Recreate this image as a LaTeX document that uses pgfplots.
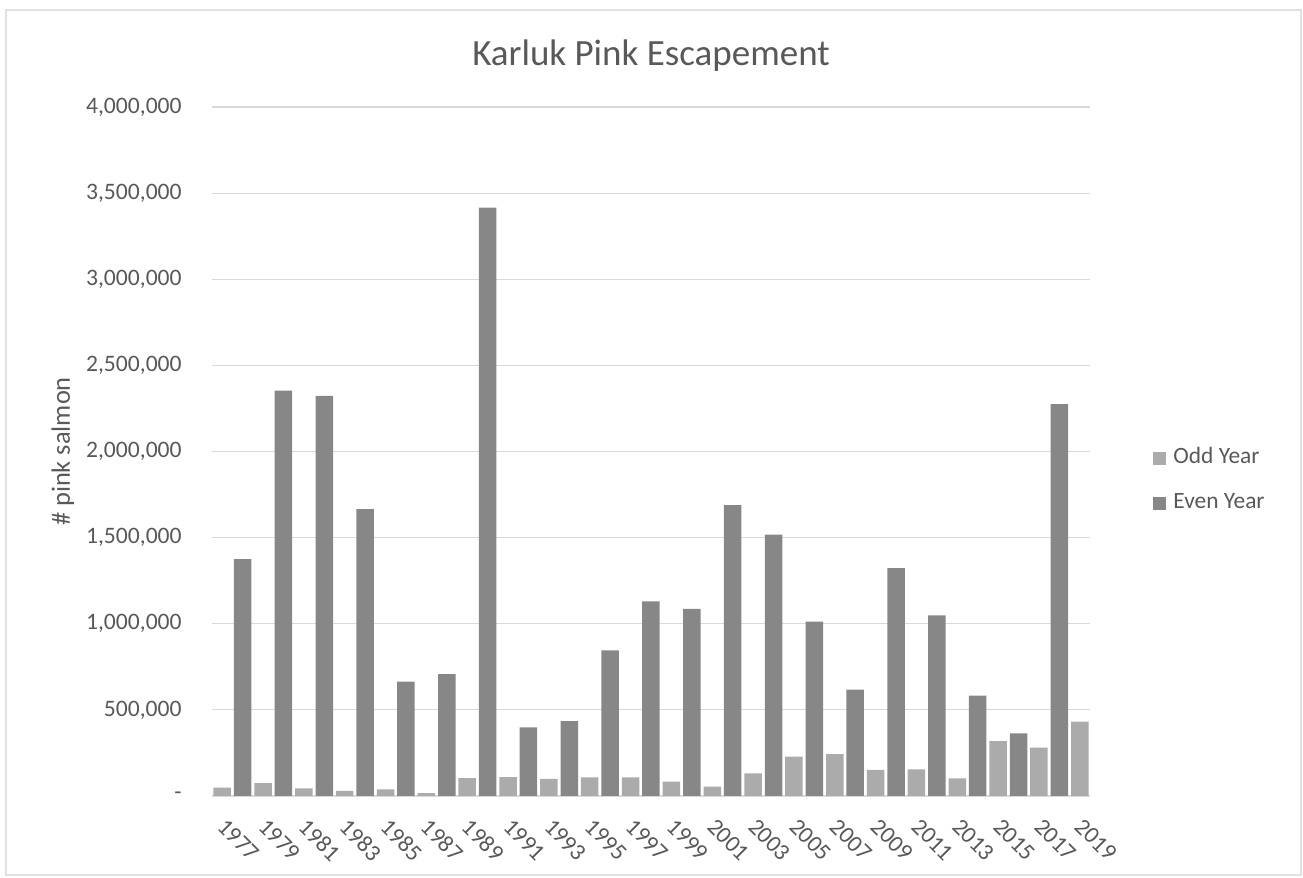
\documentclass[border=0pt]{standalone}
\usepackage{pgfplots}
\pgfplotsset{compat=1.18}
\usepackage{fontspec}
\setmainfont{Carlito}
\definecolor{txt}{HTML}{595959}
\definecolor{oddc}{HTML}{ABABAB}
\definecolor{evenc}{HTML}{878787}
\definecolor{gridc}{HTML}{D9D9D9}
\begin{document}
\begin{tikzpicture}
\path[use as bounding box] (0pt,0pt) rectangle (651.5pt,439pt);
\draw[gridc!80, line width=0.6pt] (3pt,1.5pt) rectangle (650.5pt,434pt);
\begin{axis}[
  at={(106pt,41pt)}, anchor=south west,
  scale only axis, width=439pt, height=344.5pt,
  xmin=1976.5, xmax=2019.5, ymin=0, ymax=4000000,
  scaled y ticks=false,
  axis line style={draw=none},
  major tick length=0pt,
  ymajorgrids, grid style={gridc, line width=0.6pt},
  font=\fontsize{11.8}{14}\selectfont,
  ticklabel style={text=txt},
  ytick={0,500000,1000000,1500000,2000000,2500000,3000000,3500000,4000000},
  yticklabels={{-\hspace{4.5pt}},{500,000},{1,000,000},{1,500,000},{2,000,000},{2,500,000},{3,000,000},{3,500,000},{4,000,000}},
  yticklabel style={inner sep=0pt, xshift=-15pt, anchor=east},
  xtick={1977,1979,1981,1983,1985,1987,1989,1991,1993,1995,1997,1999,2001,2003,2005,2007,2009,2011,2013,2015,2017,2019},
  xticklabels={1977,1979,1981,1983,1985,1987,1989,1991,1993,1995,1997,1999,2001,2003,2005,2007,2009,2011,2013,2015,2017,2019},
  xticklabel style={inner sep=0pt, xshift=2.5pt, yshift=-10.5pt, rotate=-45, anchor=north west},
  title={Karluk Pink Escapement},
  every axis title/.style={at={(axis description cs:0.5,1)}, anchor=base, yshift=21pt, font=\fontsize{18.5}{22}\selectfont, text=txt},
  ylabel={\# pink salmon},
  every axis y label/.style={at={(axis description cs:0,0.5)}, xshift=-71pt, rotate=90, anchor=base, font=\fontsize{13.2}{16}\selectfont, text=txt},
  legend style={at={(axis description cs:1.0718,0.509)}, anchor=north west, draw=none, fill=none, inner sep=0pt,
    font=\fontsize{11.7}{14}\selectfont, text=txt, row sep=10pt,
    nodes={inner sep=1pt, text height=8pt, text depth=2.5pt}},
  legend cell align=left,
  legend image code/.code={\fill[#1,draw=none] (0pt,-3.2pt) rectangle (6.4pt,3.2pt); \path (9pt,0pt);},
]
\addplot[ybar, bar width=0.857, bar shift=0pt, fill=oddc, draw=none] coordinates {
(1977,48000) (1979,75000) (1981,44000) (1983,30000) (1985,38000) (1987,17000)
(1989,104000) (1991,110000) (1993,99000) (1995,108000) (1997,108000) (1999,84000)
(2001,55000) (2003,132000) (2005,229000) (2007,243000) (2009,152000) (2011,154000)
(2013,103000) (2015,318000) (2017,281000) (2019,432000)
};
\addlegendentry{Odd Year}
\addplot[ybar, bar width=0.857, bar shift=0pt, fill=evenc, draw=none] coordinates {
(1978,1375000) (1980,2354000) (1982,2323000) (1984,1665000) (1986,664000) (1988,707000)
(1990,3416000) (1992,399000) (1994,435000) (1996,845000) (1998,1130000) (2000,1087000)
(2002,1688000) (2004,1518000) (2006,1012000) (2008,617000) (2010,1323000) (2012,1049000)
(2014,582000) (2016,363000) (2018,2275000)
};
\addlegendentry{Even Year}
\end{axis}
\end{tikzpicture}
\end{document}
